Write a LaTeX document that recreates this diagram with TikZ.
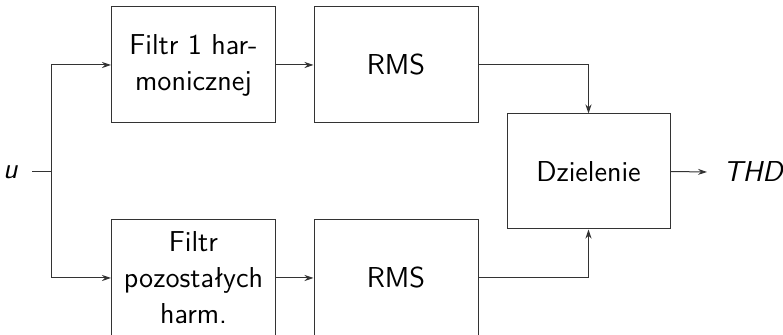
\documentclass[tikz,border=0pt]{standalone}
\usetikzlibrary{arrows.meta}
\begin{document}
\begin{tikzpicture}[x=0.5pt,y=-0.5pt,
  blk/.style={draw=black!80, line width=0.5pt, minimum width=82pt, minimum height=58pt, align=center, inner sep=2pt, font=\sffamily\Large},
  conn/.style={draw=black!80, line width=0.5pt, -{Stealth[length=4.5pt,width=3pt]}},
  lbl/.style={font=\sffamily\itshape\Large}]
\useasboundingbox (0,0) rectangle (783,335);
\node[blk] (f1) at (193.5,65) {Filtr 1 har-\\monicznej};
\node[blk] (r1) at (396,65) {RMS};
\node[blk] (f2) at (193.5,278) {Filtr\\pozostałych\\harm.};
\node[blk] (r2) at (396,278) {RMS};
\node[blk, minimum width=81.5pt, minimum height=57.5pt] (div) at (588.5,171.5) {Dzielenie};
\node[lbl, anchor=east, inner xsep=7pt] (u) at (32,172) {u};
\coordinate (j) at (51,172);
\node[lbl, anchor=west, inner xsep=8pt] (thd) at (707,172) {THD};
\draw[draw=black!80, line width=0.5pt] (u.east) -- (j);
\draw[conn] (j) |- (f1.west);
\draw[conn] (j) |- (f2.west);
\draw[conn] (f1.east) -- (r1.west);
\draw[conn] (f2.east) -- (r2.west);
\draw[conn] (r1.east) -| (div.north);
\draw[conn] (r2.east) -| (div.south);
\draw[conn] (div.east) -- (thd.west);
\end{tikzpicture}
\end{document}
